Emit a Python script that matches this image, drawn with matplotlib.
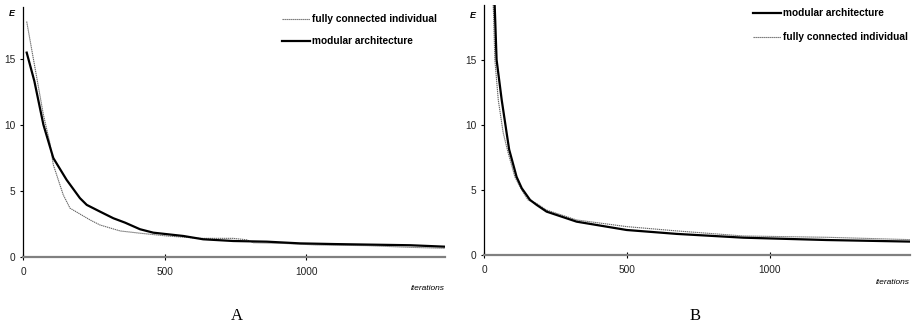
import matplotlib
matplotlib.use("Agg")
import matplotlib.pyplot as plt

plt.rcParams['font.family'] = ['Liberation Sans', 'DejaVu Sans']

# Panel A
a_mod_it = [13, 40, 72, 107, 154, 201, 225, 272, 319, 360, 413, 460, 566, 636, 742, 861, 979, 1096, 1214, 1367, 1491]
a_mod_e = [15.45, 13.3, 10.0, 7.48, 5.83, 4.45, 3.94, 3.43, 2.93, 2.6, 2.1, 1.84, 1.59, 1.34, 1.21, 1.16, 1.03, 0.98, 0.94, 0.89, 0.78]
a_full_it = [13, 72, 95, 107, 142, 166, 237, 272, 343, 413, 508, 625, 742, 790, 813, 919, 1037, 1214, 1367, 1491]
a_full_e = [17.8, 10.75, 8.6, 6.97, 4.7, 3.69, 2.8, 2.42, 1.97, 1.8, 1.59, 1.41, 1.41, 1.3, 1.08, 1.03, 0.91, 0.86, 0.73, 0.66]

# Panel B
b_mod_it = [34, 38, 44, 62, 79, 88, 114, 132, 161, 184, 219, 324, 499, 674, 907, 1198, 1490]
b_mod_e = [21.0, 18.8, 15.0, 11.9, 9.4, 8.1, 6.0, 5.13, 4.23, 3.85, 3.33, 2.56, 1.92, 1.62, 1.33, 1.15, 1.03]
b_full_it = [29, 33, 38, 50, 67, 85, 108, 132, 154, 184, 219, 324, 499, 674, 907, 1198, 1490]
b_full_e = [21.0, 18.8, 15.0, 11.9, 9.4, 7.8, 6.0, 5.0, 4.23, 3.95, 3.45, 2.69, 2.18, 1.85, 1.46, 1.36, 1.18]

labels = ["fully connected individual", "modular architecture"]

fig = plt.figure(figsize=(9.17, 3.25), dpi=100)
ax_a = fig.add_axes([0.0251, 0.2092, 0.4602, 0.7693])
ax_b = fig.add_axes([0.5278, 0.2154, 0.4646, 0.7692])

full_style = dict(color='#666666', lw=0.8, linestyle=(0, (1.2, 0.6)))
mod_style = dict(color='black', lw=1.6)


def style_axis(ax, ymax, e_y, it_y):
    ax.set_xlim(0, 1490)
    ax.set_ylim(0, ymax)
    ax.set_xticks([0, 500, 1000])
    ax.set_yticks([0, 5, 10, 15])
    for side in ['top', 'right']:
        ax.spines[side].set_visible(False)
    ax.spines['left'].set_color('black')
    ax.spines['left'].set_linewidth(0.9)
    ax.spines['bottom'].set_color('#808080')
    ax.spines['bottom'].set_linewidth(1.6)
    ax.tick_params(axis='both', labelsize=7.3, length=2.2, width=0.8,
                   colors='black', labelcolor='#222222', pad=3.5)
    ax.tick_params(axis='x', direction='inout', length=4, pad=5)
    ax.text(-0.026, e_y, 'E', transform=ax.transAxes, fontsize=6.5,
            fontweight='bold', fontstyle='italic', ha='center', va='center')
    ax.text(1.0, it_y, 'iterations', transform=ax.transAxes, fontsize=6,
            fontstyle='italic', ha='right', va='center')


ax_a.plot(a_full_it, a_full_e, **full_style)
ax_a.plot(a_mod_it, a_mod_e, **mod_style)
style_axis(ax_a, 18.9, 0.975, -0.125)

ax_b.plot(b_full_it, b_full_e, **full_style)
ax_b.plot(b_mod_it, b_mod_e, **mod_style)
style_axis(ax_b, 19.2, 0.96, -0.11)


def legend_row(ax, x0, y, text, style):
    ax.plot([x0, x0 + 0.066], [y, y], transform=ax.transAxes, clip_on=False, **style)
    ax.text(x0 + 0.071, y, text, transform=ax.transAxes, fontsize=7.3,
            fontweight='bold', ha='left', va='center')


legend_row(ax_a, 0.614, 0.952, labels[0], full_style)
legend_row(ax_a, 0.614, 0.864, labels[1], mod_style)
legend_row(ax_b, 0.631, 0.968, labels[1], mod_style)
legend_row(ax_b, 0.631, 0.872, labels[0], full_style)

fig.text(237 / 917, 1 - 316 / 325, 'A', family=['Liberation Serif'], fontsize=12,
         ha='center', va='center')
fig.text(695 / 917, 1 - 316 / 325, 'B', family=['Liberation Serif'], fontsize=12,
         ha='center', va='center')

fig.savefig('out.png', dpi=100, facecolor='white')
